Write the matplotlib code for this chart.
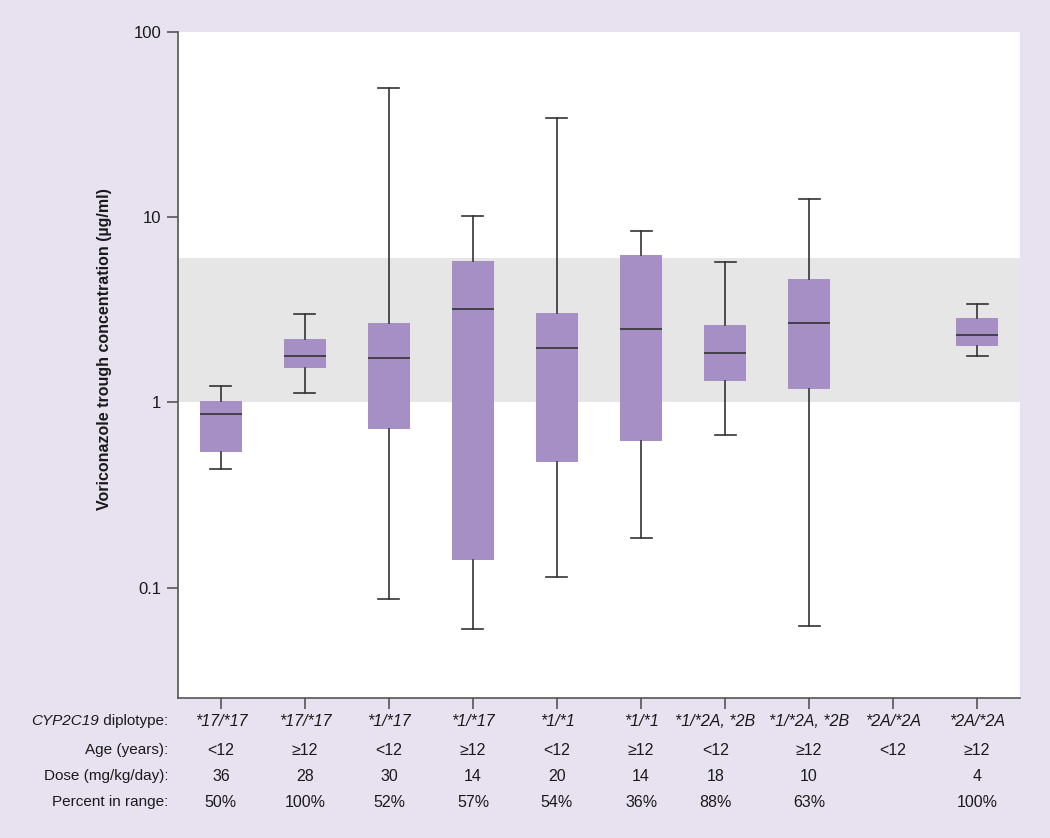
import matplotlib
matplotlib.use("Agg")
import matplotlib.pyplot as plt
import matplotlib.transforms as mtransforms

plt.rcParams['font.family'] = ['Liberation Sans', 'DejaVu Sans']

# genotype groups
diplotypes = ['*17/*17', '*17/*17', '*1/*17', '*1/*17', '*1/*1', '*1/*1',
              '*1/*2A, *2B', '*1/*2A, *2B', '*2A/*2A', '*2A/*2A']
ages = ['<12', '≥12', '<12', '≥12', '<12', '≥12', '<12', '≥12', '<12', '≥12']
doses = ['36', '28', '30', '14', '20', '14', '18', '10', '', '4']
pct_in_range = ['50%', '100%', '52%', '57%', '54%', '36%', '88%', '63%', '', '100%']

# box stats (None = no data)
whislo = [0.44, 1.12, 0.087, 0.060, 0.115, 0.186, 0.67, 0.062, None, 1.79]
q1 = [0.54, 1.53, 0.72, 0.142, 0.48, 0.62, 1.31, 1.18, None, 2.03]
med = [0.87, 1.79, 1.73, 3.18, 1.98, 2.48, 1.86, 2.67, None, 2.30]
q3 = [1.02, 2.19, 2.67, 5.79, 3.03, 6.23, 2.61, 4.62, None, 2.85]
whishi = [1.23, 2.99, 49.8, 10.1, 34.2, 8.4, 5.71, 12.5, None, 3.39]

range_lo, range_hi = 1, 6

bg = '#e8e1f0'
box_col = '#a68fc5'
line_col = '#333333'
txt_col = '#1a1a1a'

fig = plt.figure(figsize=(10.5, 8.38), dpi=100, facecolor=bg)
ax = fig.add_axes([178/1050, 1-698/838, (1020-178)/1050, (698-32)/838])

ax.axhspan(range_lo, range_hi, color='#e6e6e6', zorder=0, lw=0)

stats = []
pos = []
for i in range(len(diplotypes)):
    if med[i] is None:
        continue
    stats.append(dict(whislo=whislo[i], q1=q1[i], med=med[i], q3=q3[i],
                      whishi=whishi[i], fliers=[]))
    pos.append(i + 1)

ax.bxp(stats, positions=pos, widths=0.5, patch_artist=True, showfliers=False,
       boxprops=dict(facecolor=box_col, edgecolor='none'),
       medianprops=dict(color=line_col, lw=1.2),
       whiskerprops=dict(color=line_col, lw=1.2),
       capprops=dict(color=line_col, lw=1.2), capwidths=0.25,
       manage_ticks=False)

ax.set_yscale('log')
ax.set_ylim(0.0254, 100)
ax.set_xlim(0.49, 10.51)
ax.set_yticks([0.1, 1, 10, 100])
ax.set_yticklabels(['0.1', '1', '10', '100'])
ax.minorticks_off()
ax.set_xticks(range(1, 11))
ax.set_xticklabels([])
ax.tick_params(axis='both', direction='out', length=8, width=1.2, color='#555555',
               labelsize=12, labelcolor=txt_col)
ax.tick_params(axis='y', pad=4)
for s in ['top', 'right']:
    ax.spines[s].set_visible(False)
for s in ['left', 'bottom']:
    ax.spines[s].set_color('#555555')
    ax.spines[s].set_linewidth(1.2)

ax.set_ylabel('Voriconazole trough concentration (µg/ml)', fontsize=11.5,
              fontweight='bold', color=txt_col)
ax.yaxis.set_label_coords(-0.078, 0.524)

# table under the axis
trans = mtransforms.blended_transform_factory(ax.transData, fig.transFigure)
row_y = [1-721/838, 1-750/838, 1-776/838, 1-802/838]
rows = [diplotypes, ages, doses, pct_in_range]
fs = 11.5
for r, (yy, vals) in enumerate(zip(row_y, rows)):
    for i, v in enumerate(vals):
        # column 7 text sits a bit left of its tick so long labels don't collide
        dx = -7 if i == 6 else 0
        ax.annotate(v, xy=(i + 1, yy), xycoords=trans, xytext=(dx, 0),
                    textcoords='offset points', ha='center', va='center',
                    fontsize=fs, color=txt_col,
                    style='italic' if r == 0 else 'normal', annotation_clip=False)

lx = 168/1050
fs_row = 11
t = fig.text(lx, row_y[0], ' diplotype:', ha='right', va='center', fontsize=fs_row,
             color=txt_col)
fig.canvas.draw()
ax.annotate('CYP2C19', xy=(0, 0.5), xycoords=t, ha='right', va='center',
            fontsize=fs_row, style='italic', color=txt_col, annotation_clip=False)
fig.text(lx, row_y[1], 'Age (years):', ha='right', va='center', fontsize=fs_row,
         color=txt_col)
fig.text(lx, row_y[2], 'Dose (mg/kg/day):', ha='right', va='center', fontsize=fs_row,
         color=txt_col)
fig.text(lx, row_y[3], 'Percent in range:', ha='right', va='center', fontsize=fs_row,
         color=txt_col)

fig.savefig('out.png', dpi=100, facecolor=bg)
